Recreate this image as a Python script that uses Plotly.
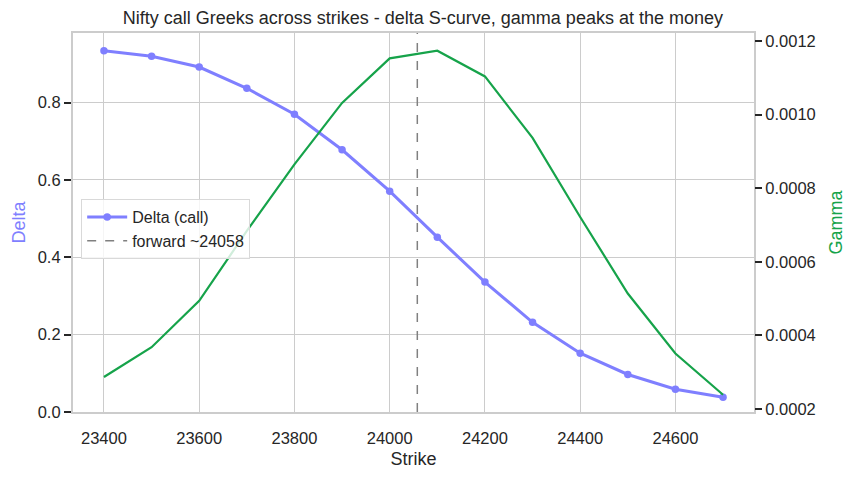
import plotly.graph_objects as go

strikes = [23400, 23500, 23600, 23700, 23800, 23900, 24000, 24100, 24200, 24300, 24400, 24500, 24600, 24700]
delta = [0.934, 0.920, 0.892, 0.837, 0.770, 0.678, 0.571, 0.452, 0.336, 0.232, 0.152, 0.097, 0.059, 0.038]
gamma = [0.000287, 0.000368, 0.000494, 0.000684, 0.000865, 0.001032, 0.001153, 0.001174, 0.001104,
         0.000937, 0.000722, 0.000514, 0.000351, 0.000239]
forward = 24058
delta_range = [0.0, 0.98]
gamma_range = [0.000192, 0.001222]
x_range = [23335, 24765]
x_ticks = [23400, 23600, 23800, 24000, 24200, 24400, 24600]
delta_ticks = [0.0, 0.2, 0.4, 0.6, 0.8]
gamma_ticks = [0.0002, 0.0004, 0.0006, 0.0008, 0.0010, 0.0012]

DELTA_C = "#7f7fff"
GAMMA_C = "#16a34a"
TXT = "#262626"
GRID = "#cccccc"
FONT = "Liberation Sans, Arial, sans-serif"

fig = go.Figure()
fig.add_trace(go.Scatter(x=strikes, y=delta, mode="lines+markers", name="Delta (call)",
                         line=dict(color=DELTA_C, width=3), marker=dict(size=7.5, color=DELTA_C),
                         yaxis="y"))
fig.add_trace(go.Scatter(x=[forward, forward], y=delta_range, mode="lines", name="forward ~24058",
                         line=dict(color="#808080", width=1.5, dash="dash"), yaxis="y"))
fig.add_trace(go.Scatter(x=strikes, y=gamma, mode="lines", name="Gamma", showlegend=False,
                         line=dict(color=GAMMA_C, width=2.2), yaxis="y2"))

fig.update_layout(
    width=856, height=479,
    margin=dict(l=73, r=102, t=33, b=67),
    paper_bgcolor="white", plot_bgcolor="white",
    font=dict(family=FONT, size=16.5, color=TXT),
    title=dict(text="Nifty call Greeks across strikes - delta S-curve, gamma peaks at the money",
               x=0.494, xanchor="center", y=1 - 18 / 479, yanchor="middle",
               font=dict(size=18, color=TXT, family=FONT)),
    xaxis=dict(range=x_range, tickvals=x_ticks, tickformat="d", ticks="", ticklabelstandoff=10,
               showgrid=True, gridcolor=GRID, gridwidth=1.3,
               showline=True, linecolor=GRID, linewidth=2.2, mirror=True, zeroline=False,
               title=dict(text="Strike", font=dict(size=18, color=TXT), standoff=6),
               tickfont=dict(size=16.5, color=TXT)),
    yaxis=dict(range=delta_range, tickvals=delta_ticks, tickformat=".1f",
               ticks="outside", ticklen=7, tickwidth=1.5, tickcolor=TXT,
               showgrid=True, gridcolor=GRID, gridwidth=1.3, zeroline=False,
               showline=True, linecolor=GRID, linewidth=2.2, mirror=True,
               title=dict(text="Delta", font=dict(size=18, color=DELTA_C), standoff=7),
               tickfont=dict(size=16.5, color=TXT)),
    yaxis2=dict(range=gamma_range, tickvals=gamma_ticks, tickformat=".4f",
                overlaying="y", side="right", anchor="x",
                ticks="outside", ticklen=7, tickwidth=1.5, tickcolor=TXT,
                showgrid=False, zeroline=False, showline=False,
                title=dict(text="Gamma", font=dict(size=18, color=GAMMA_C), standoff=14),
                tickfont=dict(size=16.5, color=TXT)),
    legend=dict(x=0.012, y=0.562, xanchor="left", yanchor="top",
                bgcolor="rgba(255,255,255,0.8)", bordercolor="#d9d9d9", borderwidth=1,
                font=dict(size=16, color=TXT), tracegroupgap=0, itemwidth=40),
    showlegend=True,
)

fig.write_html("out.html")
